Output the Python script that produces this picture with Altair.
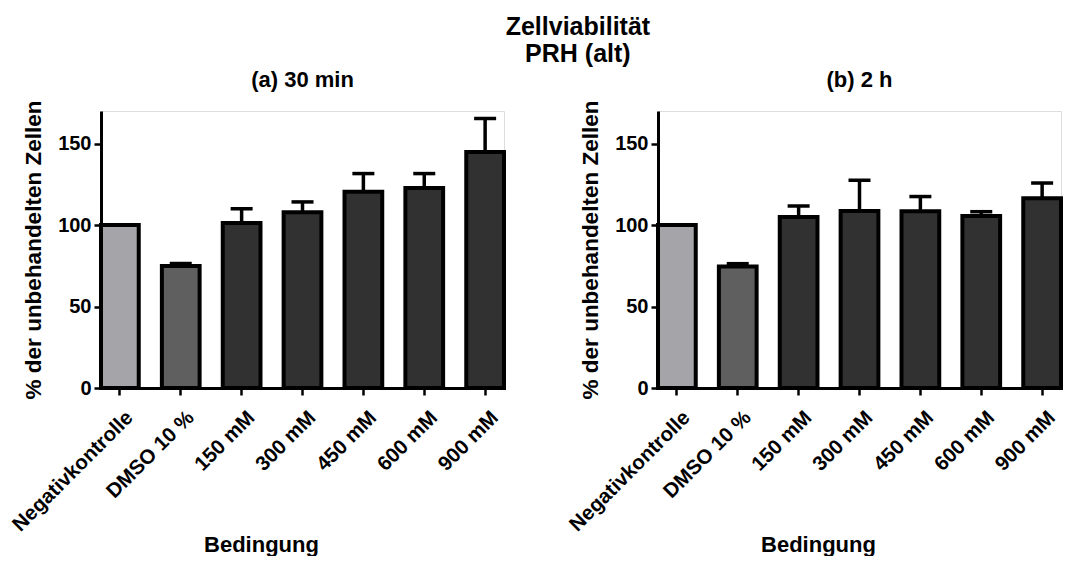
import altair as alt
import pandas as pd

conditions = ["Negativkontrolle", "DMSO 10 %", "150 mM", "300 mM", "450 mM", "600 mM", "900 mM"]
mean_30min = [100, 74.9, 101.3, 107.8, 120.5, 122.8, 144.9]
upper_30min = [100, 76.4, 110.0, 114.2, 131.6, 131.6, 165.4]
mean_2h = [100, 74.5, 105.0, 108.7, 108.5, 105.6, 116.4]
upper_2h = [100, 76.3, 111.7, 127.5, 117.5, 108.2, 125.8]
bar_colors = ["#a4a4a9", "#5f5f5f", "#313131", "#313131", "#313131", "#313131", "#313131"]

main_title = ["Zellviabilität", "PRH (alt)"]
panel_titles = ["(a) 30 min", "(b) 2 h"]
x_title = "Bedingung"
y_title = "% der unbehandelten Zellen"
y_ticks = [0, 50, 100, 150]

FONT = "Liberation Sans"
W = 403
H = 277


def panel(means, uppers, title):
    df = pd.DataFrame({"Bedingung": conditions, "Wert": means, "Oben": uppers})
    base = alt.Chart(df).encode(
        x=alt.X(
            "Bedingung:N",
            sort=conditions,
            scale=alt.Scale(paddingInner=0.38, paddingOuter=0),
            axis=alt.Axis(
                title=x_title,
                labelAngle=-45,
                labelAlign="right",
                labelBaseline="top",
                labelPadding=12,
                labelOffset=3,
                labelFontSize=20.5,
                labelFont=FONT,
                labelFontWeight="bold",
                labelColor="black",
                tickSize=7,
                tickWidth=2.5,
                tickColor="black",
                domainWidth=3,
                domainColor="black",
                titleFontSize=22,
                titleFont=FONT,
                titleFontWeight="bold",
                titleColor="black",
                titleX=160,
                titleY=163,
                titleAlign="center",
                titleBaseline="alphabetic",
            ),
        )
    )
    yscale = alt.Scale(domain=[0, 170], nice=False)
    bars = base.mark_bar(stroke="black", strokeWidth=4).encode(
        y=alt.Y(
            "Wert:Q",
            scale=yscale,
            axis=alt.Axis(
                title=y_title,
                values=y_ticks,
                grid=False,
                labelFontSize=20,
                labelFont=FONT,
                labelFontWeight="bold",
                labelColor="black",
                labelPadding=3,
                tickSize=7,
                tickWidth=2.5,
                tickColor="black",
                domainWidth=3,
                domainColor="black",
                titleFontSize=22.5,
                titleFont=FONT,
                titleFontWeight="bold",
                titleColor="black",
                titlePadding=12,
            ),
        ),
        color=alt.Color(
            "Bedingung:N",
            scale=alt.Scale(domain=conditions, range=bar_colors),
            legend=None,
        ),
    )
    errs = base.transform_filter("datum.Oben > datum.Wert")
    stem = errs.mark_rule(strokeWidth=3.5, color="black").encode(
        y=alt.Y("Wert:Q", scale=yscale), y2="Oben:Q"
    )
    cap = errs.mark_tick(thickness=3.5, size=22, color="black", opacity=1).encode(
        y=alt.Y("Oben:Q", scale=yscale)
    )
    return alt.layer(bars, stem, cap).properties(
        width=W,
        height=H,
        title=alt.TitleParams(
            title,
            fontSize=22,
            font=FONT,
            fontWeight="bold",
            color="black",
            anchor="middle",
            offset=8,
        ),
    )


chart = (
    alt.hconcat(
        panel(mean_30min, upper_30min, panel_titles[0]),
        panel(mean_2h, upper_2h, panel_titles[1]),
        spacing=58,
    )
    .properties(
        title=alt.TitleParams(
            main_title,
            fontSize=25,
            font=FONT,
            fontWeight="bold",
            color="black",
            anchor="middle",
            dx=42,
            lineHeight=27,
            offset=2,
        ),
        padding={"left": 0, "top": 6, "right": 0, "bottom": 0},
    )
    .configure_view(stroke=None)
    .configure(background="white")
)

chart.save("out.html", embed_options={"renderer": "svg", "actions": False})
